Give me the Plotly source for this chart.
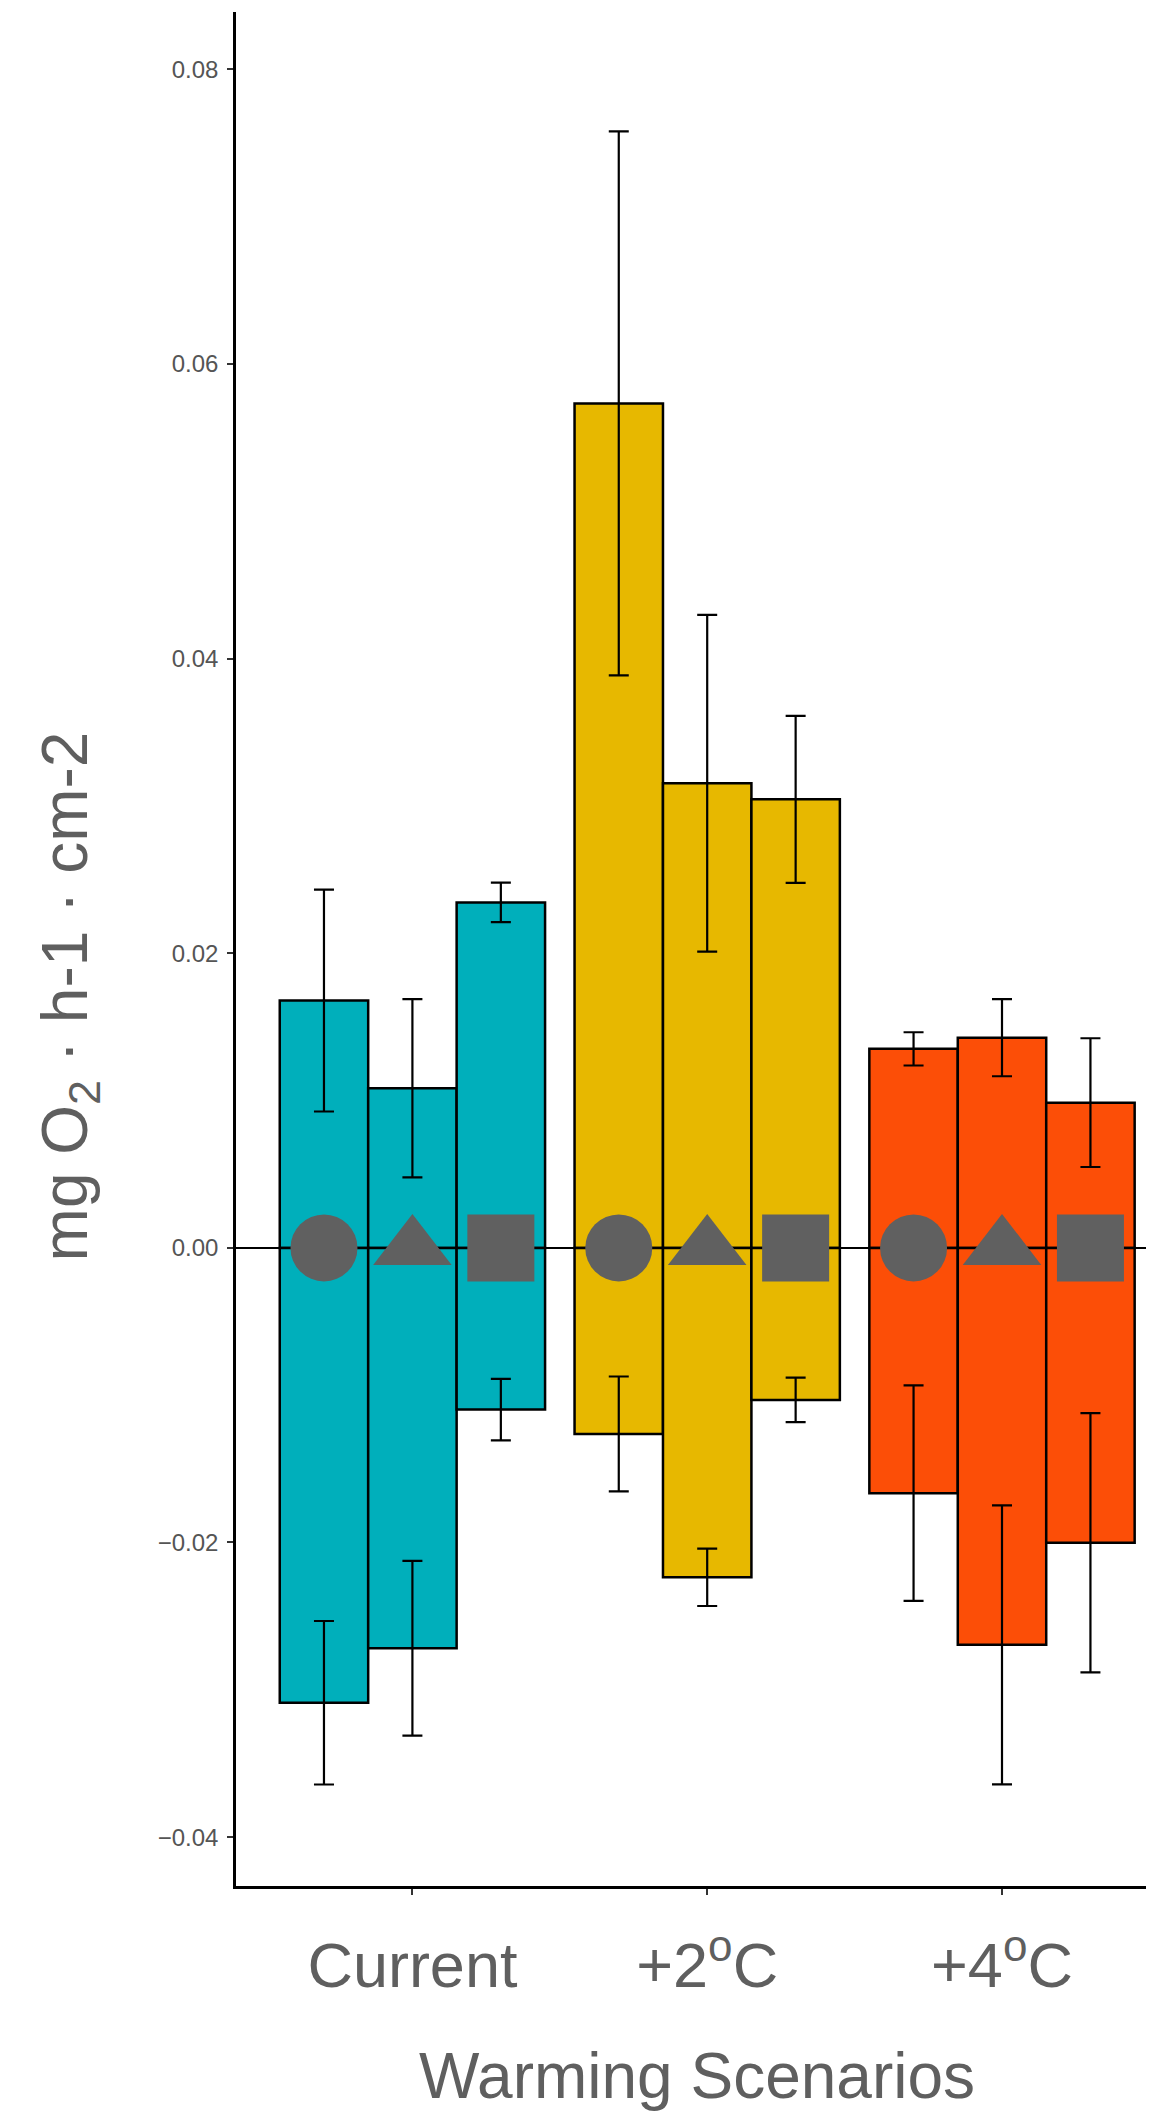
import plotly.graph_objects as go

# ---- data ----
scenarios = ["Current", "+2<sup>o</sup>C", "+4<sup>o</sup>C"]
scenario_colors = ["#00AFBB", "#E7B800", "#FC4E07"]
subgroups = ["circle", "triangle-up", "square"]

# positive (upper) bars and their standard errors, per scenario (3 subgroups each)
pos_current = [0.01679, 0.01084, 0.02345]
pos_plus2 = [0.05733, 0.03154, 0.03045]
pos_plus4 = [0.01351, 0.01427, 0.00986]
pos_se_current = [0.00753, 0.00605, 0.00134]
pos_se_plus2 = [0.01847, 0.01143, 0.00567]
pos_se_plus4 = [0.00113, 0.00262, 0.00437]

# negative (lower) bars and their standard errors
neg_current = [-0.03088, -0.02718, -0.01098]
neg_plus2 = [-0.01263, -0.02236, -0.01032]
neg_plus4 = [-0.01665, -0.02695, -0.02002]
neg_se_current = [0.00555, 0.00593, 0.00209]
neg_se_plus2 = [0.00390, 0.00195, 0.00151]
neg_se_plus4 = [0.00732, 0.00947, 0.00880]

y_ticks = [-0.04, -0.02, 0.00, 0.02, 0.04, 0.06, 0.08]

pos_vals = [pos_current, pos_plus2, pos_plus4]
pos_ses = [pos_se_current, pos_se_plus2, pos_se_plus4]
neg_vals = [neg_current, neg_plus2, neg_plus4]
neg_ses = [neg_se_current, neg_se_plus2, neg_se_plus4]

# ---- layout constants ----
dodge = 0.9
bar_w = dodge / len(subgroups)
offsets = [(j - (len(subgroups) - 1) / 2) * bar_w for j in range(len(subgroups))]
x_range = [0.4016, 3.5156]
y_range = [-0.04332, 0.08390]

fig = go.Figure()

all_x = []
for i, sc in enumerate(scenarios):
    xs = [i + 1 + o for o in offsets]
    all_x += xs
    for vals, ses in ((pos_vals[i], pos_ses[i]), (neg_vals[i], neg_ses[i])):
        fig.add_trace(go.Bar(
            x=xs, y=vals, width=bar_w,
            marker=dict(color=scenario_colors[i], line=dict(color="black", width=2.5)),
            error_y=dict(type="data", array=ses, visible=True, color="black",
                         thickness=2.2, width=10),
            showlegend=False, hoverinfo="skip",
        ))

# zero reference line (above bars, below symbols)
fig.add_trace(go.Scatter(x=x_range, y=[0, 0], mode="lines",
                         line=dict(color="black", width=2),
                         showlegend=False, hoverinfo="skip"))

sym_sizes = {"circle": 67, "triangle-up": 68, "square": 67}
fig.add_trace(go.Scatter(
    x=all_x, y=[0] * len(all_x), mode="markers",
    marker=dict(symbol=[subgroups[k % 3] for k in range(len(all_x))],
                size=[sym_sizes[subgroups[k % 3]] for k in range(len(all_x))],
                color="#606060", opacity=1, line=dict(width=0)),
    showlegend=False, hoverinfo="skip",
))

fig.update_layout(
    width=1154, height=2112,
    margin=dict(l=228, r=8, t=4, b=234),
    paper_bgcolor="white", plot_bgcolor="white",
    barmode="overlay",
    font=dict(family="Liberation Sans, Arial, sans-serif", color="#5f5f5f"),
    xaxis=dict(range=x_range, tickvals=[1, 2, 3], ticktext=scenarios,
               showline=True, linecolor="black", linewidth=2.5,
               ticks="outside", ticklen=6, tickwidth=2, tickcolor="#333333",
               ticklabelstandoff=17,
               showgrid=False, zeroline=False,
               tickfont=dict(size=63, color="#5f5f5f")),
    yaxis=dict(range=y_range, tickvals=y_ticks, tickformat=".2f",
               showline=True, linecolor="black", linewidth=2.5,
               ticks="outside", ticklen=6, tickwidth=2, tickcolor="#333333",
               ticklabelstandoff=4,
               showgrid=False, zeroline=False,
               tickfont=dict(size=24, color="#555555")),
    annotations=[
        dict(text="Warming Scenarios", xref="paper", yref="paper",
             x=0.502, y=-0.1014, xanchor="center", yanchor="middle",
             showarrow=False, font=dict(size=64, color="#5f5f5f")),
        dict(text="mg O<sub>2</sub> · h-1 · cm-2", xref="paper", yref="paper",
             x=-0.1819, y=0.4747, xanchor="center", yanchor="middle",
             textangle=-90, showarrow=False, font=dict(size=64, color="#5f5f5f")),
    ],
)

fig.write_html("out.html")
